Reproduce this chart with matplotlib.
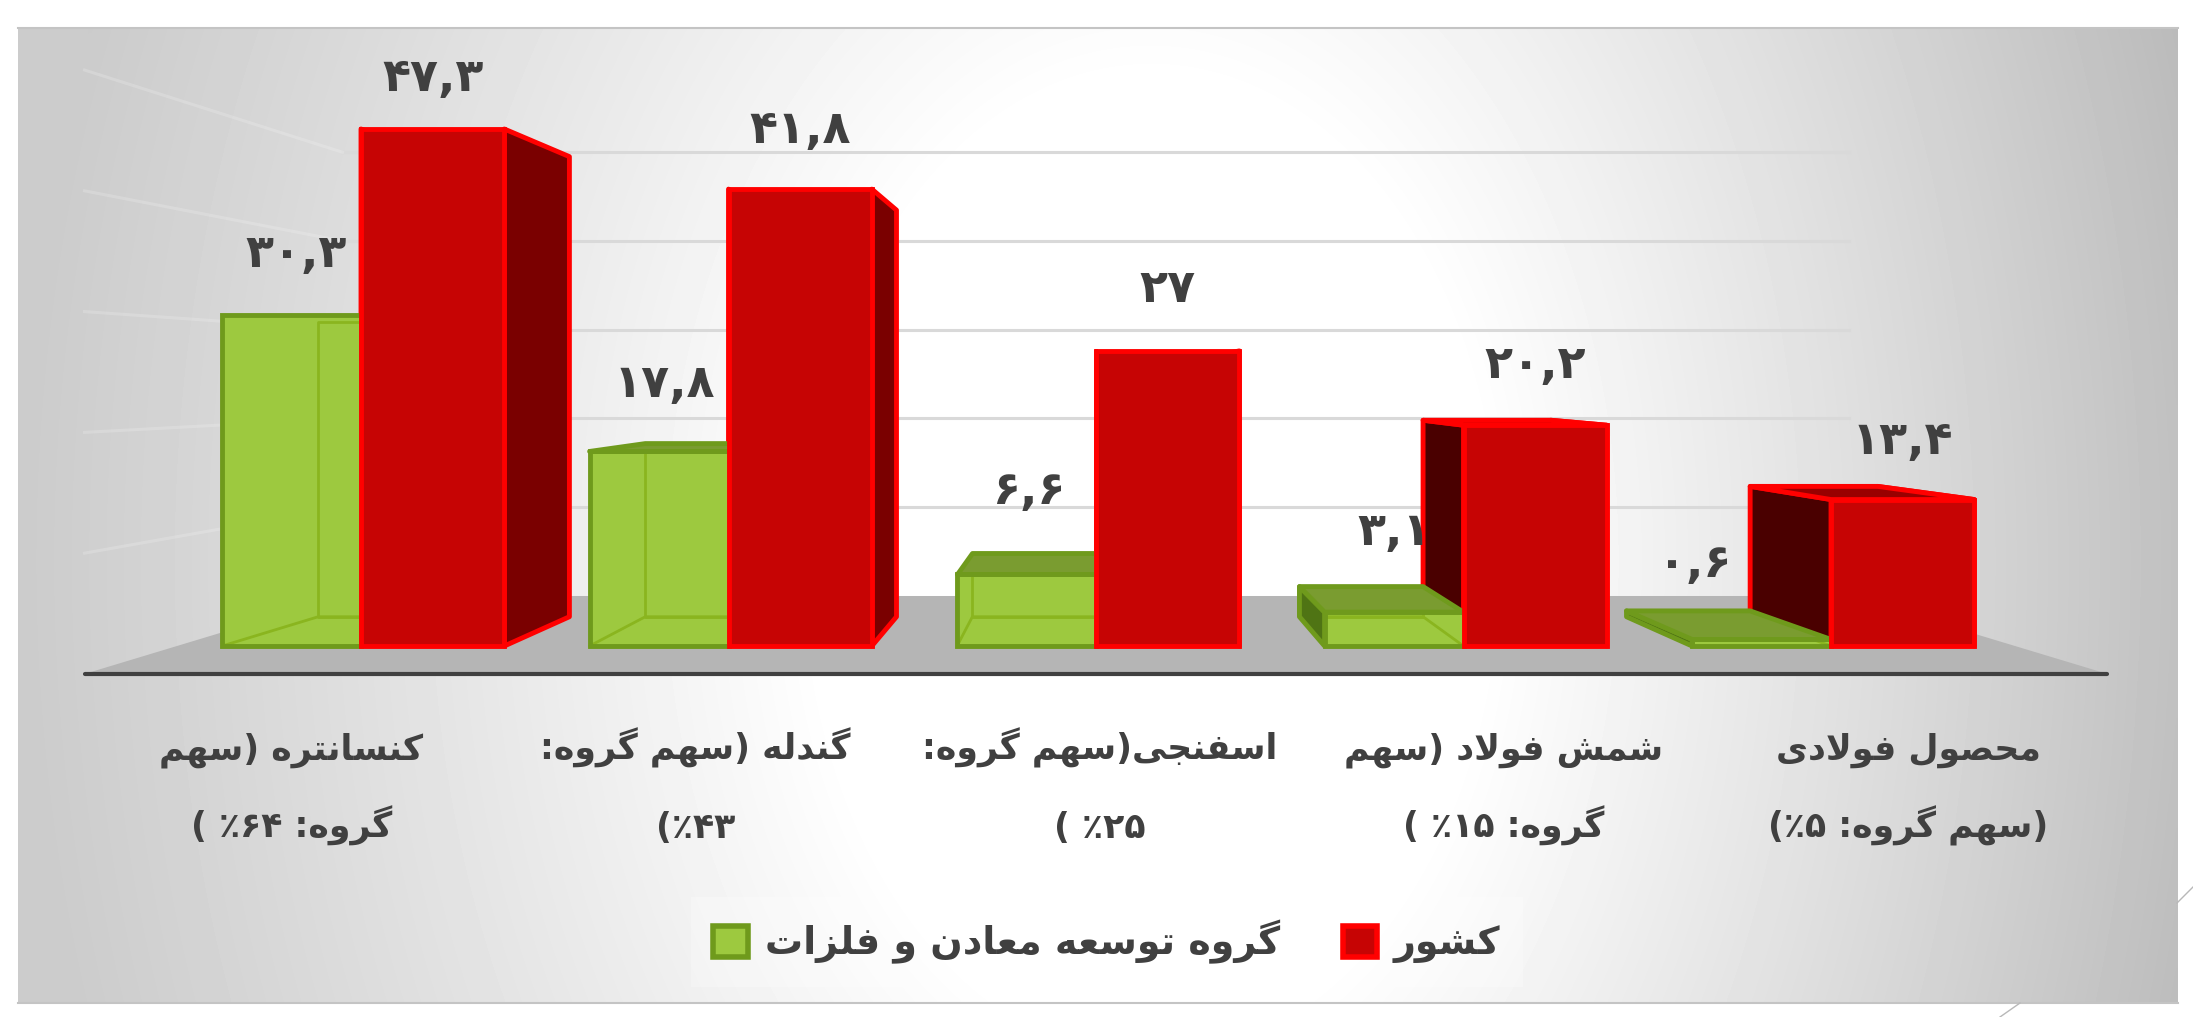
import re
import numpy as np
import matplotlib
matplotlib.use("Agg")
import matplotlib.pyplot as plt
from matplotlib.lines import Line2D
from matplotlib.patches import Patch

# chart data
categories = [
    "کنسانتره (سهم\nگروه: ۶۴٪ )",
    "گندله (سهم گروه:\n۴۳٪)",
    "اسفنجی(سهم گروه:\n۲۵٪ )",
    "شمش فولاد (سهم\nگروه: ۱۵٪ )",
    "محصول فولادی\n(سهم گروه: ۵٪)",
]
group_name = "گروه توسعه معادن و فلزات"
country_name = "کشور"
group_values = [30.3, 17.8, 6.6, 3.1, 0.6]
country_values = [47.3, 41.8, 27, 20.2, 13.4]
grid_values = [10, 20, 30, 40, 50]

# matplotlib has no arabic shaping, so pick the presentation forms by hand
# letter: isolated, final, initial, medial
FORMS = {
    "ا": (0xFE8D, 0xFE8E), "د": (0xFEA9, 0xFEAA), "ر": (0xFEAD, 0xFEAE),
    "ز": (0xFEAF, 0xFEB0), "و": (0xFEED, 0xFEEE),
    "ت": (0xFE95, 0xFE96, 0xFE97, 0xFE98), "ج": (0xFE9D, 0xFE9E, 0xFE9F, 0xFEA0),
    "ح": (0xFEA1, 0xFEA2, 0xFEA3, 0xFEA4), "س": (0xFEB1, 0xFEB2, 0xFEB3, 0xFEB4),
    "ش": (0xFEB5, 0xFEB6, 0xFEB7, 0xFEB8), "ص": (0xFEB9, 0xFEBA, 0xFEBB, 0xFEBC),
    "ع": (0xFEC9, 0xFECA, 0xFECB, 0xFECC), "ف": (0xFED1, 0xFED2, 0xFED3, 0xFED4),
    "ل": (0xFEDD, 0xFEDE, 0xFEDF, 0xFEE0), "م": (0xFEE1, 0xFEE2, 0xFEE3, 0xFEE4),
    "ن": (0xFEE5, 0xFEE6, 0xFEE7, 0xFEE8), "ه": (0xFEE9, 0xFEEA, 0xFEEB, 0xFEEC),
    "ک": (0xFB8E, 0xFB8F, 0xFB90, 0xFB91), "گ": (0xFB92, 0xFB93, 0xFB94, 0xFB95),
    "ی": (0xFBFC, 0xFBFD, 0xFBFE, 0xFBFF),
}


def shape(line):
    out = []
    i = 0
    while i < len(line):
        c = line[i]
        nxt = line[i + 1] if i + 1 < len(line) else ""
        prev = line[i - 1] if i > 0 else ""
        prev_joins = prev in FORMS and len(FORMS[prev]) == 4
        if c == "ل" and nxt == "ا":
            out.append(chr(0xFEFC if prev_joins else 0xFEFB))
            i += 2
            continue
        if c in FORMS:
            f = FORMS[c]
            next_joins = nxt in FORMS and len(f) == 4
            if prev_joins and next_joins:
                out.append(chr(f[3]))
            elif prev_joins:
                out.append(chr(f[1]))
            elif next_joins:
                out.append(chr(f[2]))
            else:
                out.append(chr(f[0]))
        else:
            out.append(c)
        i += 1
    # visual order: right to left, digit runs stay as they are
    tokens = re.findall(r"[۰-۹]+|.", "".join(out))
    tokens = [{"(": ")", ")": "("}.get(t, t) for t in tokens]
    return "".join(reversed(tokens))


def fa_num(v):
    s = f"{v:g}".replace(".", ",")
    return s.translate(str.maketrans("0123456789", "۰۱۲۳۴۵۶۷۸۹"))


W, H = 2193, 1017
PX_X = 367.5
PX_Y = 10.93
X0 = 361
Y0 = 646

# perspective of the fake 3d box
VP_X = 2
VP_V = (Y0 - 380) / PX_Y
S_BAR = 0.89
S_BACK = 0.812
S_FRONT = 1.105
WALL_L, WALL_R = -0.525, 4.525
# the front corners of the floor pull in a little
FRONT_L = VP_X + (WALL_L - VP_X) * 1.09 / S_FRONT
FRONT_R = VP_X + (WALL_R - VP_X) * 1.09 / S_FRONT


def proj(x, v, s):
    return VP_X + (x - VP_X) * s, VP_V + (v - VP_V) * s


def face(ax, pts, **kw):
    xs = [p[0] for p in pts]
    ys = [p[1] for p in pts]
    ax.fill(xs, ys, joinstyle="round", **kw)


fig = plt.figure(figsize=(W / 100, H / 100), dpi=100, facecolor="white")

# panel background
bg = fig.add_axes([18 / W, 1 - 1003 / H, (2178 - 18) / W, (1003 - 28) / H])
yy, xx = np.mgrid[28:1003:4, 18:2178:4]
d = np.hypot((xx - 1150) / 1050, (yy - 560) / 1500)
amp = 0.2 + 0.08 * xx / W
shade = 1 - amp * np.clip((d - 0.32) / 0.75, 0, 1)
bg.imshow(shade, cmap="gray", vmin=0, vmax=1, aspect="auto", interpolation="bilinear")
bg.set_axis_off()

ax = fig.add_axes([0, 0, 1, 1])
ax.patch.set_alpha(0)
ax.set_xlim(-X0 / PX_X, (W - X0) / PX_X)
ax.set_ylim(-(H - Y0) / PX_Y, Y0 / PX_Y)
ax.set_axis_off()

# floor
face(ax, [proj(WALL_L, 0, S_BACK), proj(WALL_R, 0, S_BACK),
          proj(FRONT_R, 0, S_FRONT), proj(FRONT_L, 0, S_FRONT)],
     color="#b5b5b5", lw=0, zorder=1)

# gridlines on the back wall and the left wall
for v in grid_values:
    a = proj(WALL_L, v, S_BACK)
    b = proj(WALL_R, v, S_BACK)
    c = proj(FRONT_L, v, S_FRONT)
    ax.plot([a[0], b[0]], [a[1], b[1]], color="#d9d9d9", lw=2.2, zorder=1)
    ax.plot([a[0], c[0]], [a[1], c[1]], color="white", alpha=0.18, lw=2.2, zorder=1)

# axis line
a = proj(FRONT_L, 0, S_FRONT)
b = proj(FRONT_R, 0, S_FRONT)
ax.plot([a[0], b[0]], [a[1], b[1]], color="#404040", lw=3, zorder=2, solid_capstyle="round")

x = np.arange(len(categories))
G_W = 0.378
R_W = 0.39
RED_EDGE = "#ff0000"
GREEN_EDGE = "#6f9a1c"
INNER = "#8ab51f"


def box_faces(x0, x1, v):
    fl, fr = (x0, 0), (x1, 0)
    tl, tr = (x0, v), (x1, v)
    bl, br = proj(x0, 0, S_BAR), proj(x1, 0, S_BAR)
    ul, ur = proj(x0, v, S_BAR), proj(x1, v, S_BAR)
    return {
        "back": [bl, br, ur, ul],
        "left": [fl, bl, ul, tl],
        "right": [fr, br, ur, tr],
        "top": [tl, tr, ur, ul],
        "bottom": [fl, fr, br, bl],
    }


for i in x:
    # red sides behind everything else of the group
    r = box_faces(i, i + R_W, country_values[i])
    face(ax, r["left"], facecolor="#4a0000", edgecolor=RED_EDGE, lw=3.5, zorder=3)
    face(ax, r["right"], facecolor="#7a0000", edgecolor=RED_EDGE, lw=3.5, zorder=3)
    # top only shows when it lies under the eye level
    if country_values[i] < VP_V:
        face(ax, r["top"], facecolor="#990000", edgecolor=RED_EDGE, lw=3.5, zorder=3)

ax.bar(x - G_W, group_values, G_W, align="edge", color="#9dc93f", linewidth=0, zorder=4)

for i in x:
    # green box is see-through, so its inner edges stay visible
    g = box_faces(i - G_W, i, group_values[i])
    for name in ["back", "bottom"]:
        face(ax, g[name], fill=False, edgecolor=INNER, lw=2, zorder=5)
    if i > VP_X:
        face(ax, g["left"], facecolor="#4f7414", edgecolor=GREEN_EDGE, lw=3.5, zorder=6)
    if group_values[i] < VP_V:
        face(ax, g["top"], facecolor="#7a9c30", edgecolor=GREEN_EDGE, lw=3.5, zorder=6)

ax.bar(x - G_W, group_values, G_W, align="edge", fill=False, edgecolor=GREEN_EDGE,
       linewidth=3.5, zorder=7)
ax.bar(x, country_values, R_W, align="edge", color="#c60404", edgecolor=RED_EDGE,
       linewidth=3.5, zorder=8)

# value labels, lifts are in pixels above the bar top
TXT = "#404040"
green_lift = [60, 67, 82, 80, 75]
green_shift = [5, 5, 2, 0, -67]
red_lift = [51, 59, 61, 60, 58]
for i in x:
    ax.annotate(fa_num(group_values[i]), (i - G_W / 2, group_values[i]),
                xytext=(green_shift[i] * 0.72, green_lift[i] * 0.72),
                textcoords="offset points", ha="center", va="center",
                fontsize=33, fontweight="bold", color=TXT, family="DejaVu Sans", zorder=9)
    ax.annotate(fa_num(country_values[i]), (i + R_W / 2, country_values[i]),
                xytext=(0, red_lift[i] * 0.72),
                textcoords="offset points", ha="center", va="center",
                fontsize=33, fontweight="bold", color=TXT, family="DejaVu Sans", zorder=9)

# category labels sit under the front edge of the floor, two lines each
for i, name in enumerate(categories):
    lx = proj(i, 0, 1.1)[0] + 0.01
    first, second = name.split("\n")
    ax.text(lx, (Y0 - 760) / PX_Y, shape(first), ha="center", va="baseline",
            fontsize=25, fontweight="bold", color=TXT, family="DejaVu Sans", zorder=9)
    ax.text(lx, (Y0 - 838) / PX_Y, shape(second), ha="center", va="baseline",
            fontsize=25, fontweight="bold", color=TXT, family="DejaVu Sans", zorder=9)

handles = [
    Patch(facecolor="#9dc93f", edgecolor=GREEN_EDGE, linewidth=4, joinstyle="round"),
    Patch(facecolor="#c60404", edgecolor=RED_EDGE, linewidth=4, joinstyle="round"),
]
leg = ax.legend(handles, [shape(group_name), shape(country_name)], ncol=2,
                loc="center", bbox_to_anchor=(1107 / W, 1 - 942 / H),
                prop={"family": "DejaVu Sans", "weight": "bold", "size": 27.4},
                labelcolor=TXT, frameon=True, facecolor="white", edgecolor="none",
                framealpha=0.25, fancybox=False, handlelength=0.9, handleheight=0.9,
                handletextpad=0.45, columnspacing=1.65, borderpad=0.6)
leg.set_zorder(9)

# panel rules and the stray slide decoration lines
for y in [28, 1003]:
    fig.add_artist(Line2D([18 / W, 2178 / W], [1 - y / H, 1 - y / H], color="#c4c4c4", lw=1.5))
fig.add_artist(Line2D([2193 / W, 2177 / W], [1 - 887 / H, 1 - 903 / H], color="#b8b8b8", lw=1))
fig.add_artist(Line2D([2020 / W, 2000 / W], [1 - 1003 / H, 1 - 1017 / H], color="#b8b8b8", lw=1))

fig.savefig("out.png", dpi=100)
